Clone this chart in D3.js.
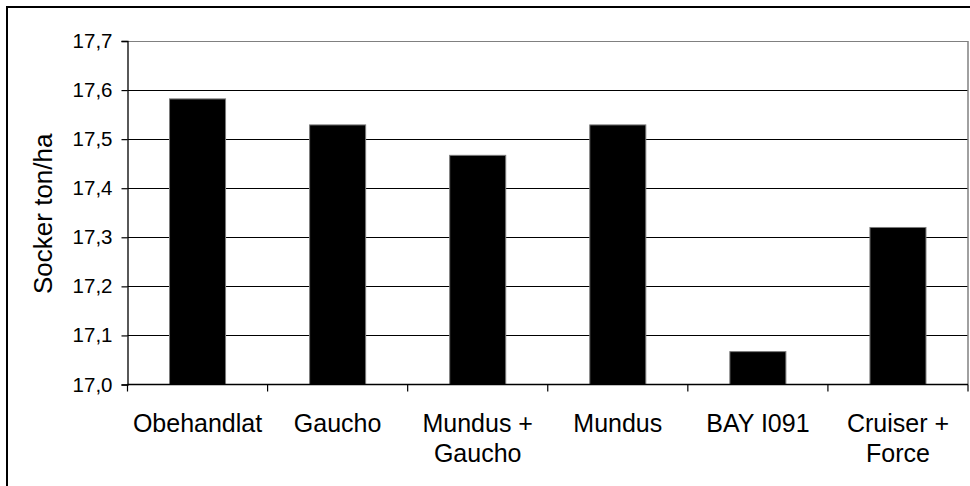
<!DOCTYPE html>
<html>
<head>
<meta charset="utf-8">
<script src="https://cdn.jsdelivr.net/npm/d3@7"></script>
<style>
  html, body { margin: 0; padding: 0; background: #fff; }
  svg { display: block; font-family: "Liberation Sans", Arial, sans-serif; }
</style>
</head>
<body>
<div id="chart"></div>
<script>
(function () {

	"use strict";

	// categories (each entry is the lines of one label)
	var categories = [
		["Obehandlat"],
		["Gaucho"],
		["Mundus +", "Gaucho"],
		["Mundus"],
		["BAY I091"],
		["Cruiser +", "Force"]
	];
	// sugar yield, ton/ha
	var values = [17.582, 17.529, 17.467, 17.529, 17.067, 17.320];
	var yTicks = [17.0, 17.1, 17.2, 17.3, 17.4, 17.5, 17.6, 17.7];
	var yTitle = "Socker ton/ha";

	var width = 970,
		height = 486;
	var plot = { left: 127.5, top: 41, right: 968, bottom: 384.5 };

	var sv = d3.formatLocale({ decimal: ",", thousands: " ", grouping: [3], currency: ["", " kr"] });

	var svg = d3.select("#chart").append("svg")
		.attr("width", width)
		.attr("height", height);

	svg.append("rect").attr("width", width).attr("height", height).attr("fill", "#fff");

	// outer chart frame, runs off the right and bottom edges
	svg.append("rect")
		.attr("x", 7).attr("y", 7)
		.attr("width", 1000).attr("height", 520)
		.attr("fill", "none")
		.attr("stroke", "#000")
		.attr("stroke-width", 2);

	var idx = d3.range(categories.length);

	var x = d3.scaleBand()
		.domain(idx)
		.range([plot.left, plot.right])
		.paddingInner(0.6)
		.paddingOuter(0.3);

	var y = d3.scaleLinear()
		.domain([yTicks[0], yTicks[yTicks.length - 1]])
		.range([plot.bottom, plot.top]);

	// gridlines
	svg.append("g")
		.selectAll("line")
		.data(yTicks.slice(1))
		.enter().append("line")
		.attr("x1", plot.left).attr("x2", plot.right)
		.attr("y1", function (d) { return Math.round(y(d)) + 0.5; })
		.attr("y2", function (d) { return Math.round(y(d)) + 0.5; })
		.attr("stroke", function (d, i) { return i === yTicks.length - 2 ? "#808080" : "#000"; })
		.attr("stroke-width", 1.2);

	// right border of plot area
	svg.append("line")
		.attr("x1", plot.right).attr("x2", plot.right)
		.attr("y1", plot.top).attr("y2", plot.bottom)
		.attr("stroke", "#808080")
		.attr("stroke-width", 1.5);

	// bars
	svg.append("g")
		.selectAll("rect")
		.data(values)
		.enter().append("rect")
		.attr("x", function (d, i) { return x(i); })
		.attr("y", function (d) { return y(d); })
		.attr("width", x.bandwidth())
		.attr("height", function (d) { return y(yTicks[0]) - y(d); })
		.attr("fill", "#000")
		.attr("stroke", "#7a7a7a")
		.attr("stroke-width", 1);

	// y axis
	var yAxis = d3.axisLeft(y)
		.tickValues(yTicks)
		.tickSize(6)
		.tickPadding(9)
		.tickFormat(sv.format(".1f"));

	var gy = svg.append("g")
		.attr("transform", "translate(" + plot.left + ",0)")
		.call(yAxis);
	gy.select(".domain").attr("stroke", "#000").attr("stroke-width", 1.3);
	gy.selectAll(".tick line").attr("stroke", "#000").attr("stroke-width", 1.2);
	gy.selectAll(".tick text")
		.attr("fill", "#000")
		.style("font-size", "20.5px")
		.style("font-family", "'Liberation Sans', Arial, sans-serif");

	// x axis: ticks on category boundaries
	var step = x.step();
	var bounds = d3.range(categories.length + 1).map(function (i) { return plot.left + i * step; });

	svg.append("line")
		.attr("x1", plot.left).attr("x2", plot.right)
		.attr("y1", plot.bottom).attr("y2", plot.bottom)
		.attr("stroke", "#000")
		.attr("stroke-width", 1.3);

	svg.append("g")
		.selectAll("line")
		.data(bounds)
		.enter().append("line")
		.attr("x1", function (d) { return d; })
		.attr("x2", function (d) { return d; })
		.attr("y1", plot.bottom)
		.attr("y2", plot.bottom + 7)
		.attr("stroke", "#000")
		.attr("stroke-width", 1.2);

	// category labels
	var labels = svg.append("g")
		.selectAll("text")
		.data(categories)
		.enter().append("text")
		.attr("text-anchor", "middle")
		.attr("fill", "#000")
		.style("font-size", "25px")
		.attr("transform", function (d, i) {
			return "translate(" + (x(i) + x.bandwidth() / 2) + "," + 431.5 + ")";
		});

	labels.selectAll("tspan")
		.data(function (d) { return d; })
		.enter().append("tspan")
		.attr("x", 0)
		.attr("dy", function (d, i) { return i === 0 ? 0 : 30.5; })
		.text(function (d) { return d; });

	// y axis title
	svg.append("text")
		.attr("transform", "translate(52," + ((plot.top + plot.bottom) / 2 + 1) + ") rotate(-90)")
		.attr("text-anchor", "middle")
		.attr("fill", "#000")
		.style("font-size", "26px")
		.text(yTitle);

}).call(this);
</script>
</body>
</html>
